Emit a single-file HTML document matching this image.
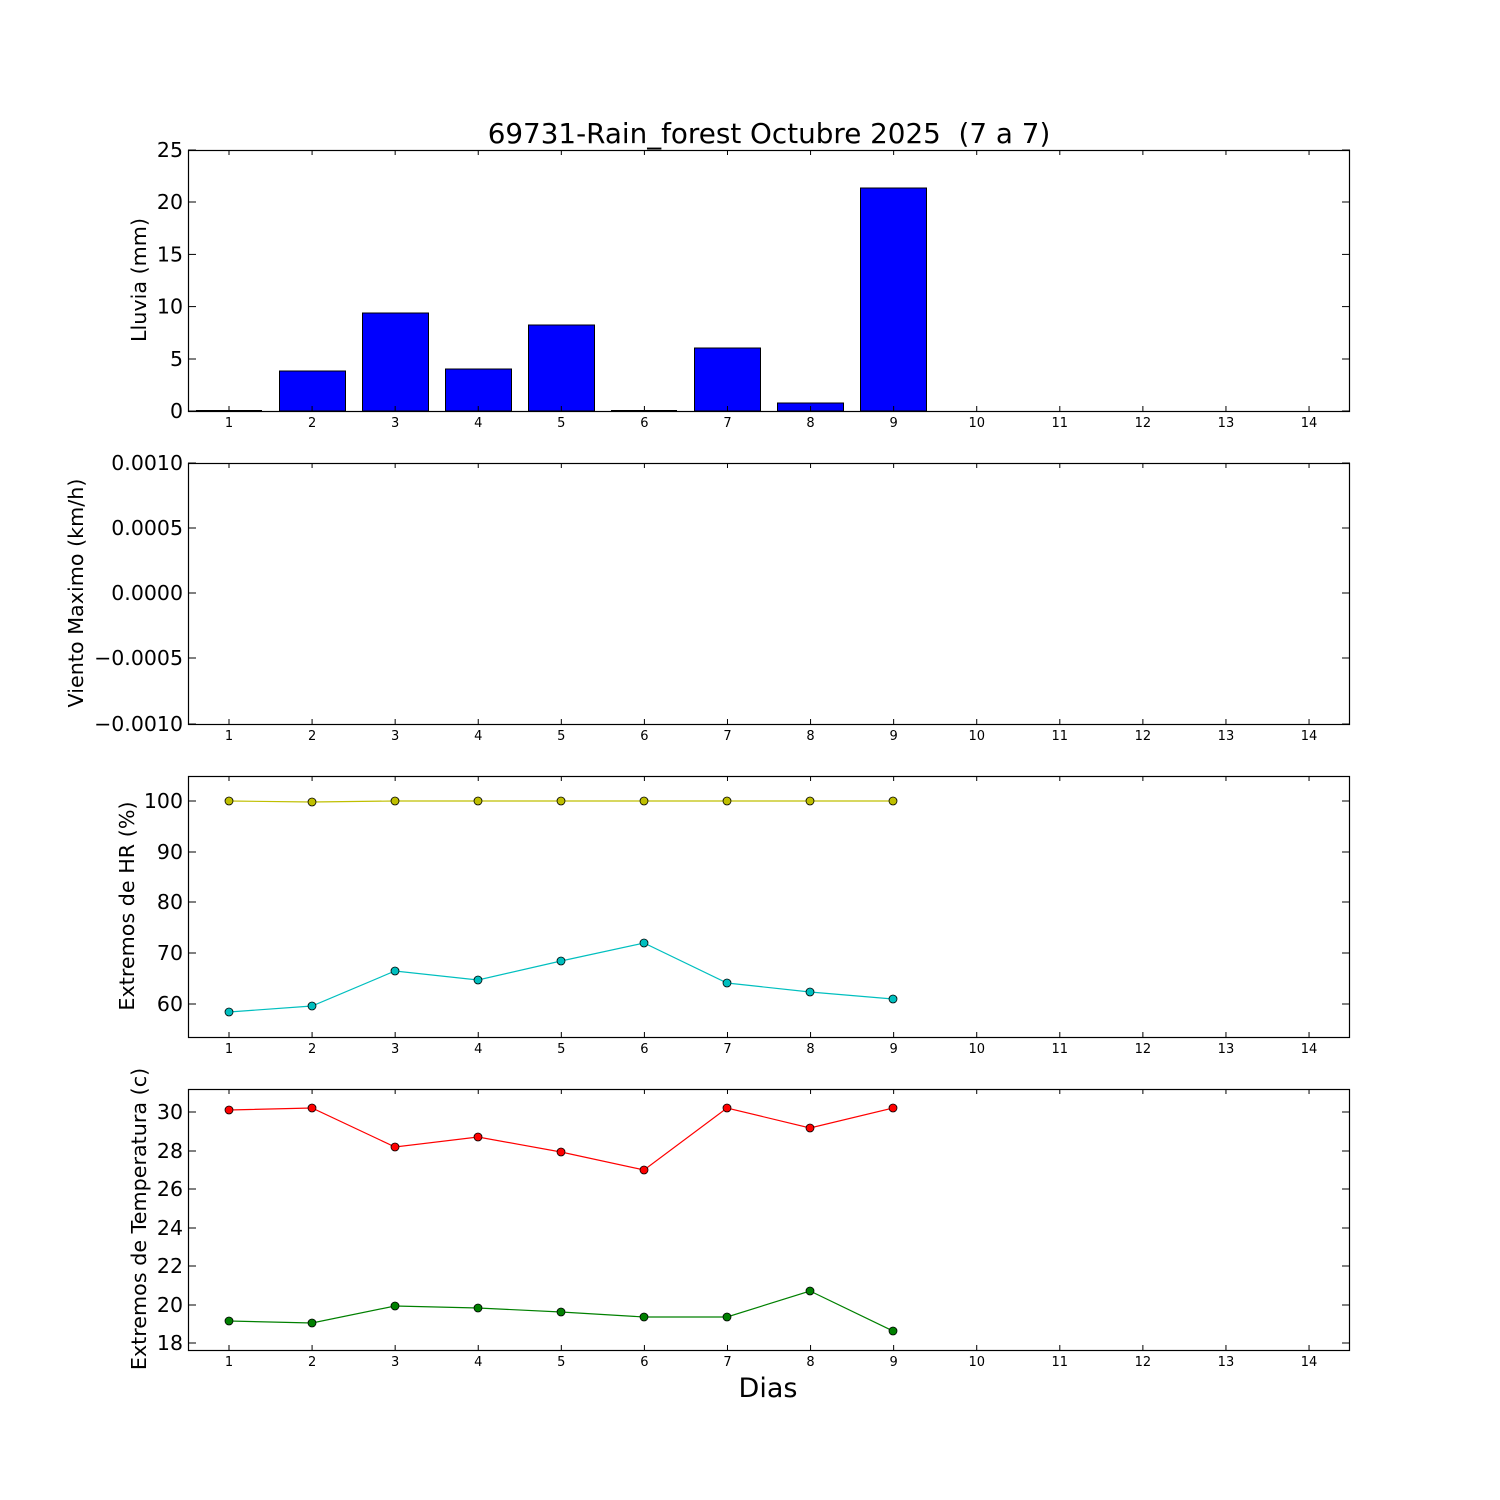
<!DOCTYPE html>
<html><head><meta charset="utf-8"><style>body{margin:0;background:#fff}svg{display:block}text{font-family:"DejaVu Sans","Liberation Sans",sans-serif}</style></head><body>
<svg width="1500" height="1500" xmlns="http://www.w3.org/2000/svg">
<rect width="1500" height="1500" fill="#fff"/>
<text x="769" y="143" font-size="27.8" text-anchor="middle" xml:space="preserve">69731-Rain_forest Octubre 2025  (7 a 7)</text>
<g fill="#0000ff" stroke="#000" stroke-width="1">
<rect x="279.5" y="371" width="66" height="40"/>
<rect x="362.5" y="313" width="66" height="98"/>
<rect x="445.5" y="369" width="66" height="42"/>
<rect x="528.5" y="325" width="66" height="86"/>
<rect x="694.5" y="348" width="66" height="63"/>
<rect x="777.5" y="403" width="66" height="8"/>
<rect x="860.5" y="188" width="66" height="223"/>
</g>
<line x1="196" y1="410.5" x2="262" y2="410.5" stroke="#000"/>
<line x1="611" y1="410.5" x2="677" y2="410.5" stroke="#000"/>
<polyline fill="none" stroke="#bfbf00" stroke-width="1.2" points="229,801 312,802 395,801 478,801 561,801 644,801 727,801 810,801 893,801"/>
<g fill="#bfbf00" stroke="#000" stroke-width="0.8">
<circle cx="229" cy="801" r="4"/><circle cx="312" cy="802" r="4"/><circle cx="395" cy="801" r="4"/><circle cx="478" cy="801" r="4"/><circle cx="561" cy="801" r="4"/><circle cx="644" cy="801" r="4"/><circle cx="727" cy="801" r="4"/><circle cx="810" cy="801" r="4"/><circle cx="893" cy="801" r="4"/></g>
<polyline fill="none" stroke="#00bfbf" stroke-width="1.2" points="229,1012 312,1006 395,971 478,980 561,961 644,943 727,983 810,992 893,999"/>
<g fill="#00bfbf" stroke="#000" stroke-width="0.8">
<circle cx="229" cy="1012" r="4"/><circle cx="312" cy="1006" r="4"/><circle cx="395" cy="971" r="4"/><circle cx="478" cy="980" r="4"/><circle cx="561" cy="961" r="4"/><circle cx="644" cy="943" r="4"/><circle cx="727" cy="983" r="4"/><circle cx="810" cy="992" r="4"/><circle cx="893" cy="999" r="4"/></g>
<polyline fill="none" stroke="#ff0000" stroke-width="1.2" points="229,1110 312,1108 395,1147 478,1137 561,1152 644,1170 727,1108 810,1128 893,1108"/>
<g fill="#ff0000" stroke="#000" stroke-width="0.8">
<circle cx="229" cy="1110" r="4"/><circle cx="312" cy="1108" r="4"/><circle cx="395" cy="1147" r="4"/><circle cx="478" cy="1137" r="4"/><circle cx="561" cy="1152" r="4"/><circle cx="644" cy="1170" r="4"/><circle cx="727" cy="1108" r="4"/><circle cx="810" cy="1128" r="4"/><circle cx="893" cy="1108" r="4"/></g>
<polyline fill="none" stroke="#008000" stroke-width="1.2" points="229,1321 312,1323 395,1306 478,1308 561,1312 644,1317 727,1317 810,1291 893,1331"/>
<g fill="#008000" stroke="#000" stroke-width="0.8">
<circle cx="229" cy="1321" r="4"/><circle cx="312" cy="1323" r="4"/><circle cx="395" cy="1306" r="4"/><circle cx="478" cy="1308" r="4"/><circle cx="561" cy="1312" r="4"/><circle cx="644" cy="1317" r="4"/><circle cx="727" cy="1317" r="4"/><circle cx="810" cy="1291" r="4"/><circle cx="893" cy="1331" r="4"/></g>
<g fill="none" stroke="#000" stroke-width="1.2">
<rect x="188.5" y="150.5" width="1161" height="261"/>
<rect x="188.5" y="463.5" width="1161" height="261"/>
<rect x="188.5" y="776.5" width="1161" height="261"/>
<rect x="188.5" y="1089.5" width="1161" height="261"/>
</g>
<script>
const s=document.querySelector('svg'),NS='http://www.w3.org/2000/svg';
function el(t,a,txt){const e=document.createElementNS(NS,t);for(const k in a)e.setAttribute(k,a[k]);if(txt!==undefined)e.textContent=txt;s.appendChild(e);}
const tops=[150,463,776,1089];
tops.forEach(t=>{const b=t+261;for(let d=1;d<=14;d++){const x=229+(d-1)*83.08;
el('line',{x1:x,y1:b,x2:x,y2:b-5,stroke:'#000'});el('line',{x1:x,y1:t,x2:x,y2:t+5,stroke:'#000'});
el('text',{x:x,y:b+16,'font-size':13,'text-anchor':'middle'},String(d));}});
function yt(arr){arr.forEach(([y,l])=>{el('line',{x1:188,y1:y,x2:196,y2:y,stroke:'#000'});el('line',{x1:1350,y1:y,x2:1342,y2:y,stroke:'#000'});
el('text',{x:183,y:y+7,'font-size':20.5,'text-anchor':'end'},l);});}
yt([[411,'0'],[359,'5'],[306.6,'10'],[254.4,'15'],[202,'20'],[150,'25']]);
yt([[463,'0.0010'],[528,'0.0005'],[593,'0.0000'],[658,'\u22120.0005'],[724,'\u22120.0010']]);
yt([[801,'100'],[852,'90'],[902,'80'],[953,'70'],[1004,'60']]);
yt([[1112,'30'],[1151,'28'],[1189,'26'],[1228,'24'],[1266,'22'],[1305,'20'],[1343,'18']]);
function yl(x,y,t){el('text',{x:x,y:y,'font-size':20.7,'text-anchor':'middle',transform:`rotate(-90 ${x} ${y})`},t);}
yl(146,280,'Lluvia (mm)');yl(83,593,'Viento Maximo (km/h)');yl(134,906,'Extremos de HR (%)');yl(146,1219,'Extremos de Temperatura (c)');
el('text',{x:768,y:1397,'font-size':27,'text-anchor':'middle'},'Dias');
</script>
</svg>
</body></html>
